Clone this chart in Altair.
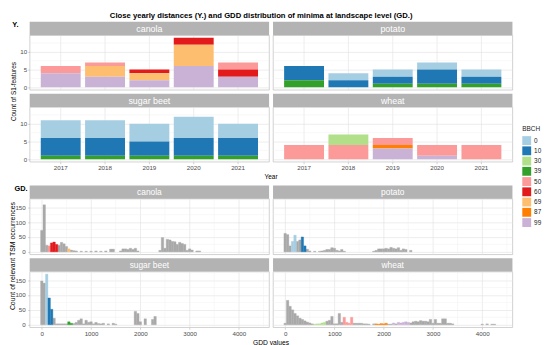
import altair as alt
import pandas as pd

# ---------------- texts ----------------
title_text = "Close yearly distances (Y.) and GDD distribution of minima  at landscape level (GD.)"
label_top = "Y."
label_bottom = "GD."
ytitle_top = "Count of S1-features"
xtitle_top = "Year"
ytitle_bottom = "Count of relevant TSM occurrences"
xtitle_bottom = "GDD values"

years = ["2017", "2018", "2019", "2020", "2021"]
bbch_levels = ["0", "10", "30", "39", "50", "60", "69", "87", "99"]
bbch_colors = ["#A6CEE3", "#1F78B4", "#B2DF8A", "#33A02C", "#FB9A99",
               "#E31A1C", "#FDBF6F", "#FF7F00", "#CAB2D6"]

# ---------------- yearly counts (2017..2021) per BBCH ----------------
canola_counts = {"50": [2, 1, 0, 0, 2], "60": [0, 0, 1, 2, 2],
                 "69": [0, 3, 2, 6, 0], "99": [4, 3, 2, 6, 3]}
potato_counts = {"0": [0, 2, 2, 2, 2], "10": [4, 2, 2, 4, 2], "39": [2, 0, 1, 1, 1]}
sugar_counts = {"0": [5, 5, 5, 6, 4], "10": [5, 5, 4, 5, 5], "39": [1, 1, 1, 1, 1]}
wheat_counts = {"30": [0, 3, 0, 0, 0], "50": [4, 4, 2, 3, 4],
                "87": [0, 0, 1, 0, 0], "99": [0, 0, 3, 1, 0]}

# ---------------- GDD histograms (bin centres, width 50) ----------------
canola_gray_gdd = [0, 50, 100, 350, 400, 450, 500, 600, 650, 700, 800, 900, 1000, 1100, 1200, 1300,
                   1400, 1450, 1600, 1650, 1700, 1750, 1800, 1850, 1900, 1950,
                   2400, 2450, 2500, 2550, 2600, 2650, 2700, 2750, 2800, 2850, 2900, 2950,
                   3000, 3050, 3150, 3200]
canola_gray_n = [72, 158, 22, 22, 32, 27, 18, 6, 4, 3, 2, 2, 2, 3, 2, 3,
                 9, 9, 3, 10, 10, 8, 12, 8, 12, 3,
                 5, 48, 12, 42, 40, 35, 34, 25, 32, 28, 25, 5,
                 10, 6, 3, 3]
canola_col_gdd = [150, 200, 250, 300, 550]
canola_col_n = [20, 30, 33, 25, 10]
canola_col_stage = ["50", "60", "60", "60", "69"]

sugar_gray_gdd = [0, 50, 250, 300, 350, 400, 450, 500, 650, 700, 750, 800, 850,
                  900, 950, 1000, 1050, 1100, 1150, 1200, 1250, 1350, 1450, 1500,
                  1900, 1950, 2000, 2100, 2250, 2300]
sugar_gray_n = [147, 140, 22, 3, 3, 3, 3, 3, 4, 8, 15, 20, 3,
                15, 8, 10, 3, 8, 4, 3, 5, 3, 5, 2,
                45, 38, 10, 20, 18, 28]
sugar_col_gdd = [100, 150, 200, 550, 600]
sugar_col_n = [170, 90, 52, 10, 5]
sugar_col_stage = ["0", "10", "10", "39", "39"]

potato_gray_gdd = [0, 50, 100, 250, 300, 450, 500, 600, 700, 750, 800, 850, 900, 950, 1000,
                   1050, 1100, 1150, 1200, 1800, 1850, 1900, 1950, 2000, 2050, 2100, 2150,
                   2200, 2250, 2300, 2350, 2400, 2450, 2550]
potato_gray_n = [62, 58, 20, 35, 40, 9, 3, 2, 2, 3, 5, 8, 8, 14, 12,
                 5, 3, 8, 2, 2, 5, 10, 10, 10, 12, 10, 15,
                 12, 10, 14, 5, 10, 8, 5]
potato_col_gdd = [150, 200, 350, 400]
potato_col_n = [35, 56, 50, 20]
potato_col_stage = ["0", "0", "10", "10"]

wheat_gray_gdd = [0, 50, 100, 150, 200, 250, 300, 350, 400, 450, 500, 550,
                  850, 900, 950, 1000, 1050, 1100, 1150,
                  1400, 1450, 1500, 1550, 1600, 1650, 1700, 1800, 2100, 2150, 2250,
                  2550, 2600, 2650, 2700, 2750, 2800, 2850, 2900, 2950,
                  3000, 3050, 3100, 3150, 3200, 3250, 3300, 3350, 3400,
                  4000, 4100, 4200, 4250]
wheat_gray_n = [5, 82, 62, 50, 38, 30, 22, 18, 13, 9, 6, 3,
                12, 15, 28, 3, 3, 38, 8,
                5, 5, 5, 5, 3, 3, 2, 3, 2, 2, 3,
                6, 10, 12, 10, 14, 12, 12, 10, 18,
                5, 18, 5, 5, 20, 20, 5, 5, 3,
                2, 3, 2, 2]
wheat_col_gdd = [600, 650, 700, 750, 800, 1200, 1250, 1300, 1350,
                 1850, 1900, 1950, 2000, 2050, 2200, 2300, 2350, 2400, 2450, 2500]
wheat_col_n = [2, 3, 3, 6, 8, 25, 8, 5, 25, 3, 2, 4, 3, 5, 6, 8, 6, 8, 10, 8]
wheat_col_stage = ["30"] * 5 + ["50"] * 4 + ["87"] * 5 + ["99"] * 6

bar_major_y = [0, 5, 10]
bar_minor_y = [2.5, 7.5, 12.5]
hist_major_x = [0, 1000, 2000, 3000, 4000]
hist_minor_x = [500, 1500, 2500, 3500, 4500]
hist_major_y = [0, 50, 100, 150]
hist_minor_y = [25, 75, 125, 175]

# ---------------- styling ----------------
FONT = "Liberation Sans"
W = 243
H1 = 55.5
H2 = 56.5
STRIP = 13.5
GRID = "#E0E0E0"
MINOR = "#F0F0F0"
STRIP_FILL = "#B3B3B3"
HIST_GRAY = "#A9A9A9"
TICK = "#4D4D4D"
BWIDTH = 25

color_scale = alt.Scale(domain=bbch_levels, range=bbch_colors)
legend = alt.Legend(title="BBCH", orient="none", legendX=500, legendY=92, direction="vertical",
                    symbolType="square", symbolSize=81, symbolStrokeWidth=0, symbolOpacity=1,
                    titleFontSize=6.5, titleFontWeight="normal", titleColor="#1A1A1A",
                    labelFontSize=6.5, labelColor="#1A1A1A", titlePadding=4, rowPadding=1.4,
                    labelOffset=3, padding=0)
color_enc = alt.Color("BBCH:N", scale=color_scale, legend=legend)
stroke_enc = alt.Stroke("BBCH:N", scale=color_scale, legend=None)


def axis(show, values, fs, pad, fmt=None, band=False):
    kw = dict(grid=True, gridColor=GRID, gridWidth=0.6, domain=False, title=None,
              labels=show, ticks=show, tickSize=2, tickColor="#B3B3B3", tickWidth=0.6,
              labelFontSize=fs, labelColor=TICK, labelPadding=pad, labelAngle=0)
    if values is not None:
        kw["values"] = values
    if fmt:
        kw["format"] = fmt
    if band:
        kw["bandPosition"] = 0.5
    return alt.Axis(**kw)


def strip_layers(crop, fs):
    sdf = pd.DataFrame({"crop": [crop]})
    rect = alt.Chart(sdf).mark_rect(color=STRIP_FILL).encode(
        x=alt.value(0), x2=alt.value(W), y=alt.value(-STRIP), y2=alt.value(0))
    txt = alt.Chart(sdf).mark_text(color="white", fontSize=fs, baseline="middle").encode(
        x=alt.value(W / 2), y=alt.value(-STRIP / 2 + 0.3), text="crop:N")
    return [rect, txt]


def text_layer(t, x, y, fs, bold=False, angle=0):
    kw = dict(fontSize=fs, color="#000000", baseline="middle", align="center")
    if bold:
        kw["fontWeight"] = "bold"
    if angle:
        kw["angle"] = angle
    return alt.Chart(pd.DataFrame({"t": [t]})).mark_text(**kw).encode(
        x=alt.value(x), y=alt.value(y), text="t:N")


def bar_df(counts):
    rows = []
    for stage, vals in counts.items():
        for yr, v in zip(years, vals):
            if v > 0:
                rows.append({"year": yr, "BBCH": stage, "count": v,
                             "rank": bbch_levels.index(stage)})
    return pd.DataFrame(rows)


def bar_panel(crop, counts, xlab, ylab, extras):
    yscale = alt.Scale(domain=[-0.7, 14.7], nice=False, zero=False)
    yaxis = axis(ylab, bar_major_y, 6.3, 1)
    xaxis = axis(xlab, None, 6.3, 1, band=True)
    minor = alt.Chart(pd.DataFrame({"v": bar_minor_y})).mark_rule(
        color=MINOR, strokeWidth=0.5).encode(y=alt.Y("v:Q", scale=yscale, axis=yaxis))
    bars = alt.Chart(bar_df(counts)).mark_bar().encode(
        x=alt.X("year:N", scale=alt.Scale(domain=years, paddingInner=0.1, paddingOuter=0.25),
                axis=xaxis),
        y=alt.Y("count:Q", stack="zero", scale=yscale, axis=yaxis),
        color=color_enc,
        order=alt.Order("rank:Q", sort="descending"))
    return alt.layer(minor, bars, *strip_layers(crop, 9), *extras).properties(width=W, height=H1)


def hist_panel(crop, g_gdd, g_n, c_gdd, c_n, c_st, xlab, ylab, extras):
    gdf = pd.DataFrame({"x0": [g - BWIDTH for g in g_gdd], "x1": [g + BWIDTH for g in g_gdd],
                        "n": g_n, "base": [0] * len(g_n)})
    cdf = pd.DataFrame({"x0": [g - BWIDTH for g in c_gdd], "x1": [g + BWIDTH for g in c_gdd],
                        "n": c_n, "base": [0] * len(c_n), "BBCH": c_st})
    xscale = alt.Scale(domain=[-246, 4614], nice=False, zero=False)
    yscale = alt.Scale(domain=[-8.5, 178.5], nice=False, zero=False)
    xaxis = axis(xlab, hist_major_x, 6.3, 1, fmt="d")
    yaxis = axis(ylab, hist_major_y, 6.3, 2.5)
    vminor = alt.Chart(pd.DataFrame({"v": hist_minor_x})).mark_rule(
        color=MINOR, strokeWidth=0.5).encode(x=alt.X("v:Q", scale=xscale, axis=xaxis))
    hminor = alt.Chart(pd.DataFrame({"v": hist_minor_y})).mark_rule(
        color=MINOR, strokeWidth=0.5).encode(y=alt.Y("v:Q", scale=yscale, axis=yaxis))
    gray = alt.Chart(gdf).mark_rect(color=HIST_GRAY, stroke=HIST_GRAY, strokeWidth=0.35).encode(
        x=alt.X("x0:Q", scale=xscale, axis=xaxis), x2="x1:Q",
        y=alt.Y("n:Q", scale=yscale, axis=yaxis), y2="base:Q")
    col = alt.Chart(cdf).mark_rect(strokeWidth=0.35).encode(
        x=alt.X("x0:Q", scale=xscale, axis=xaxis), x2="x1:Q",
        y=alt.Y("n:Q", scale=yscale, axis=yaxis), y2="base:Q",
        color=color_enc, stroke=stroke_enc)
    return alt.layer(vminor, hminor, gray, col, *strip_layers(crop, 8.5), *extras).properties(
        width=W, height=H2)


def spacer(h):
    return alt.Chart(pd.DataFrame({"a": [0]})).mark_point(opacity=0).encode(
        x=alt.value(0), y=alt.value(0)).properties(
        width=W, height=h, view=alt.ViewBackground(stroke="transparent"))


cb = bar_panel("canola", canola_counts, False, True, [
    text_layer(title_text, 235, -19.8, 7.8, bold=True),
    text_layer(label_top, -14.5, -10.7, 7.5, bold=True),
    text_layer(ytitle_top, -16, (-STRIP + 2 * H1 + 17) / 2, 6.5, angle=270),
])
pb = bar_panel("potato", potato_counts, False, False, [])
sb = bar_panel("sugar beet", sugar_counts, True, True, [
    text_layer(xtitle_top, W + 2, H1 + 15, 6.5),
])
wb = bar_panel("wheat", wheat_counts, True, False, [])

ch = hist_panel("canola", canola_gray_gdd, canola_gray_n, canola_col_gdd, canola_col_n,
                canola_col_stage, False, True, [
                    text_layer(label_bottom, -8.7, -9.8, 7.5, bold=True),
                    text_layer(ytitle_bottom, -16.7, (-STRIP + 2 * H2 + 17) / 2, 7, angle=270),
                ])
ph = hist_panel("potato", potato_gray_gdd, potato_gray_n, potato_col_gdd, potato_col_n,
                potato_col_stage, False, False, [])
sh = hist_panel("sugar beet", sugar_gray_gdd, sugar_gray_n, sugar_col_gdd, sugar_col_n,
                sugar_col_stage, True, True, [
                    text_layer(xtitle_bottom, W + 2, H2 + 16, 6.8),
                ])
wh = hist_panel("wheat", wheat_gray_gdd, wheat_gray_n, wheat_col_gdd, wheat_col_n,
                wheat_col_stage, True, False, [])

chart = alt.concat(
    cb, pb, spacer(9), spacer(9), sb, wb, spacer(29), spacer(29),
    ch, ph, spacer(9), spacer(9), sh, wh,
    columns=2, spacing=4, bounds="flush", align="each",
).resolve_scale(x="independent", y="independent", color="shared").properties(
    padding=0
).configure(font=FONT).configure_view(stroke="#BEBEBE", strokeWidth=0.7)

chart.save("out.html", embed_options={"renderer": "svg", "actions": False})
